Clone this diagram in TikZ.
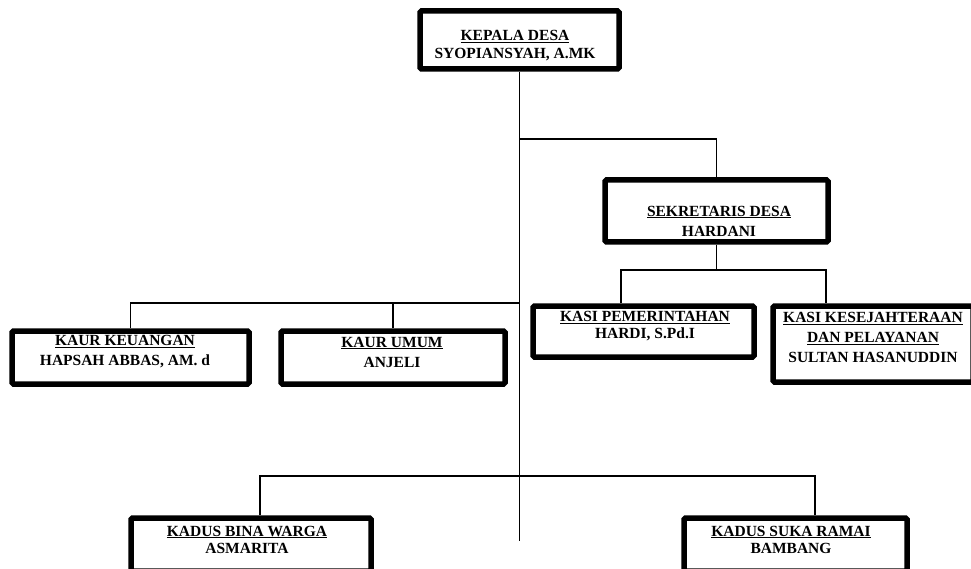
\documentclass[tikz,border=0pt]{standalone}
\usepackage{fontspec}
\setmainfont{Liberation Serif}
\begin{document}
\begin{tikzpicture}[x=1pt,y=-1pt,
  bx/.style={draw=black,line width=5.5pt,rounded corners=1.5pt,rectangle,inner sep=0pt,fill=white},
  tx/.style={align=center,inner sep=0pt,font=\fontsize{15.5}{#1}\selectfont\bfseries},
  tx/.default=19,
  ln/.style={draw=black,line width=1.8pt}]
\useasboundingbox (0,0) rectangle (971,569);
\clip (0,0) rectangle (971,569);
% boxes
\node[bx,minimum width=199pt,minimum height=58pt] (kd) at (519.5,40) {};
\node[bx,minimum width=223pt,minimum height=62pt] (sek) at (716.5,211) {};
\node[bx,minimum width=221pt,minimum height=51pt] (kp) at (643.5,331.5) {};
\node[bx,minimum width=200pt,minimum height=76pt] (ks) at (873,344) {};
\node[bx,minimum width=237pt,minimum height=53pt] (ku) at (130.5,357.5) {};
\node[bx,minimum width=224pt,minimum height=53pt] (um) at (393,357.5) {};
\node[bx,minimum width=240pt,minimum height=53pt] (bw) at (251,544.5) {};
\node[bx,minimum width=223pt,minimum height=53pt] (sr) at (795.5,544.5) {};
% texts
\node[tx=18] (kdt) at (515,46) {\underline{KEPALA DESA}\\SYOPIANSYAH, A.MK};
\node[tx=20] (sekt) at (719,221) {\underline{SEKRETARIS DESA}\\HARDANI};
\node[tx=17] (kpt) at (645,326) {\underline{KASI PEMERINTAHAN}\\HARDI, S.Pd.I};
\node[tx=20] (kst) at (873,337.5) {\underline{KASI KESEJAHTERAAN}\\\underline{DAN PELAYANAN}\\SULTAN HASANUDDIN};
\node[tx=20] (kut) at (125,352) {\underline{KAUR KEUANGAN}\\HAPSAH ABBAS, AM. d};
\node[tx=20] (umt) at (392,352) {\underline{KAUR UMUM}\\ANJELI};
\node[tx=17] (bwt) at (247,539.5) {\underline{KADUS BINA WARGA}\\ASMARITA};
\node[tx=17] (srt) at (791,539.5) {\underline{KADUS SUKA RAMAI}\\BAMBANG};
% junction coordinates
\coordinate (jA) at (519.5,139);
\coordinate (jS) at (716.5,270);
\coordinate (jL) at (519.5,303);
\coordinate (jB) at (519.5,476);
\coordinate (mEnd) at (519.5,541);
\coordinate (kpc) at (621,270);
\coordinate (ksc) at (826,270);
\coordinate (kuc) at (130.5,303);
\coordinate (bwc) at (260,476);
\coordinate (src) at (815,476);
% connectors
\draw[ln] (kd.south) -- (mEnd);
\draw[ln] (jA) -| (sek.north);
\draw[ln] (sek.south) -- (jS);
\draw[ln] (kp.north -| kpc) -- (kpc) -- (ksc) -- (ks.north -| ksc);
\draw[ln] (ku.north) -- (kuc) -- (jL);
\draw[ln] (um.north) -- (um.north |- jL);
\draw[ln] (bw.north -| bwc) -- (bwc) -- (src) -- (sr.north -| src);
\end{tikzpicture}
\end{document}
